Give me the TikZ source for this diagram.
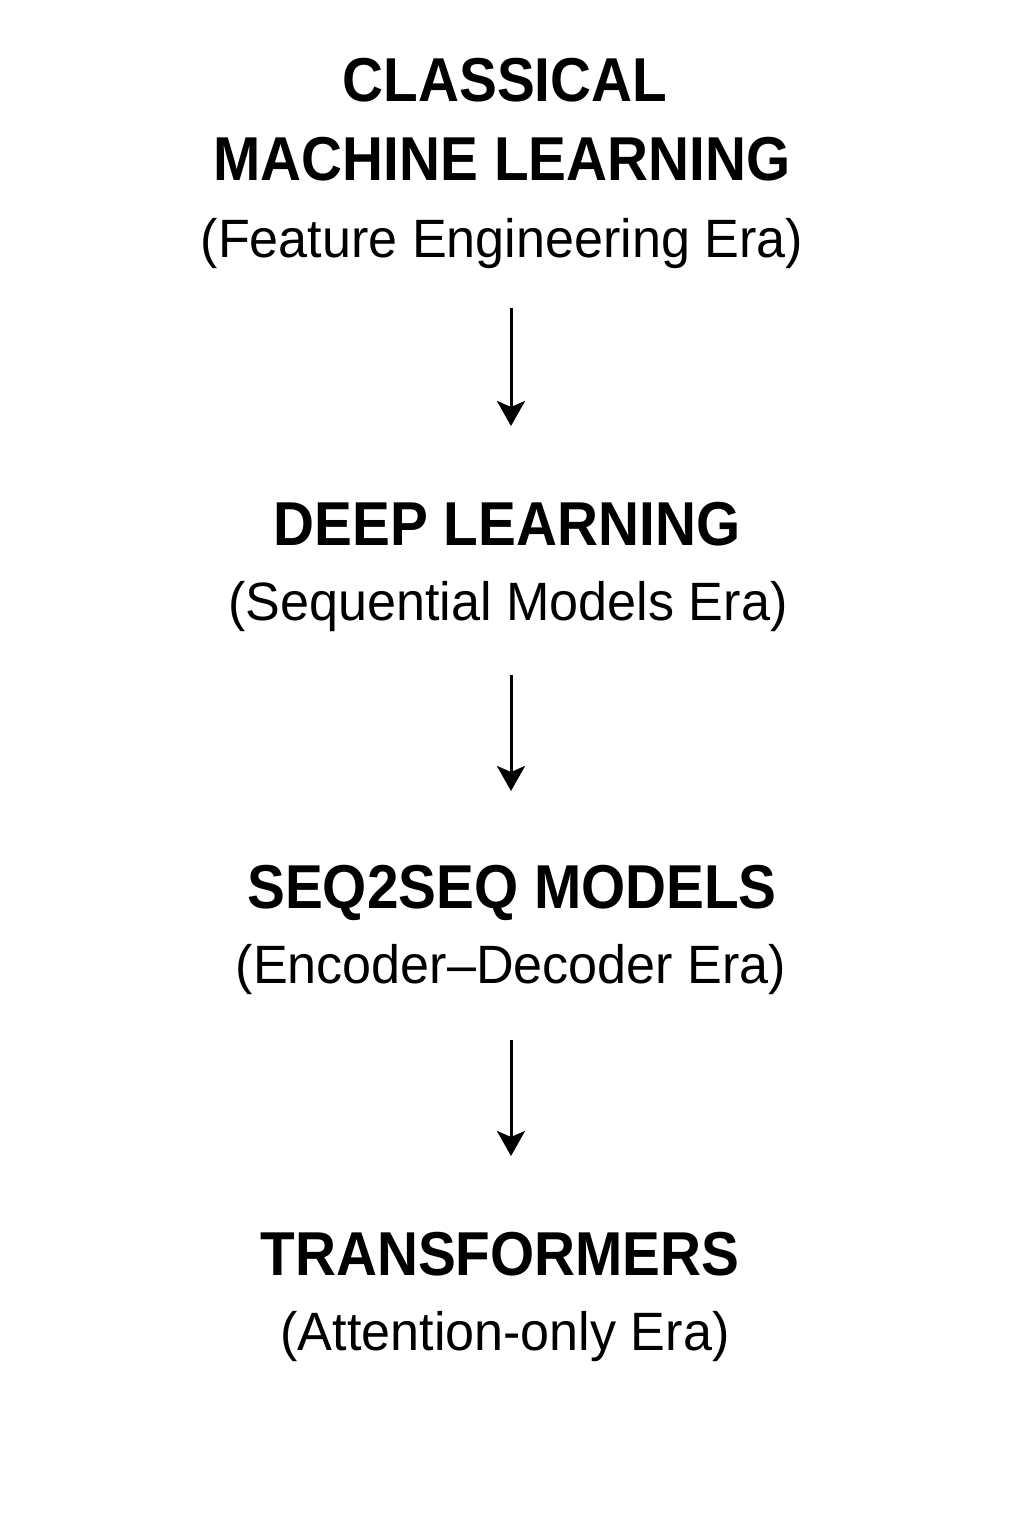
\documentclass[tikz,border=0pt]{standalone}
\usepackage{fontspec}
\setmainfont{Liberation Sans}
\newfontfamily\headfont[FakeStretch=0.915]{Liberation Sans Bold}
\newfontfamily\subfont[FakeStretch=0.965]{Liberation Sans}
\usetikzlibrary{arrows.meta}
\begin{document}
\begin{tikzpicture}[x=1pt,y=-1pt,
  title/.style={anchor=base,inner sep=0pt,font=\headfont\fontsize{62}{70}\selectfont},
  sub/.style={anchor=base,inner sep=0pt,font=\subfont\fontsize{54}{60}\selectfont},
  flow/.style={line width=3pt,-{Stealth[length=25pt,width=28pt,inset=6pt]}}]
\useasboundingbox[fill=white] (0,0) rectangle (1024,1536);
\node[title] (t1a) at (505,102) {CLASSICAL};
\node[title] (t1b) at (502,180) {MACHINE LEARNING};
\node[sub] (s1) at (502,257) {(Feature Engineering Era)};
\node[title] (t2) at (507,545) {DEEP LEARNING};
\node[sub] (s2) at (508,620) {(Sequential Models Era)};
\node[title] (t3) at (512,908) {SEQ2SEQ MODELS};
\node[sub] (s3) at (511,983) {(Encoder–Decoder Era)};
\node[title] (t4) at (500,1275) {TRANSFORMERS};
\node[sub] (s4) at (505,1350) {(Attention-only Era)};
\coordinate (a1s) at (511,308); \coordinate (a1e) at (511,426);
\coordinate (a2s) at (511,675); \coordinate (a2e) at (511,791);
\coordinate (a3s) at (511,1040); \coordinate (a3e) at (511,1156);
\draw[flow] (a1s) -- (a1e);
\draw[flow] (a2s) -- (a2e);
\draw[flow] (a3s) -- (a3e);
\end{tikzpicture}
\end{document}
